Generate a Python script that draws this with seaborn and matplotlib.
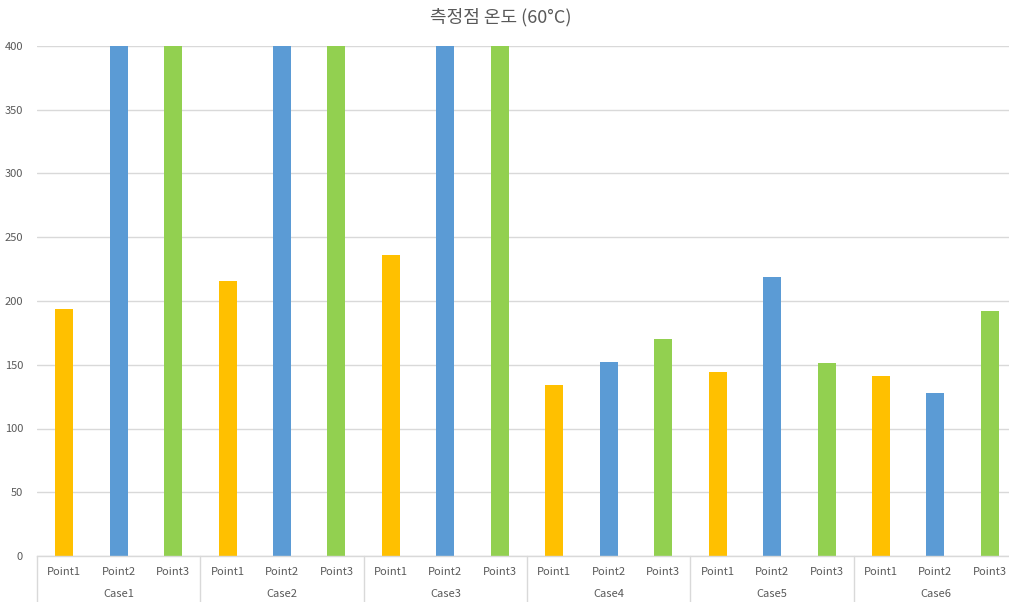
import matplotlib
matplotlib.use("Agg")
import matplotlib.pyplot as plt
import matplotlib.transforms as mtransforms
import seaborn as sns
import pandas as pd

cases = ["Case1", "Case2", "Case3", "Case4", "Case5", "Case6"]
points = ["Point1", "Point2", "Point3"]
point1 = [194, 216, 236, 134, 144, 141]
point2 = [400, 400, 400, 152, 219, 128]
point3 = [400, 400, 400, 170, 151, 192]
colors = {"Point1": "#FFC000", "Point2": "#5B9BD5", "Point3": "#92D050"}
yticks = [0, 50, 100, 150, 200, 250, 300, 350, 400]
title = "측정점 온도 (60°C)"

rows = []
for i, c in enumerate(cases):
    for p, vals in zip(points, [point1, point2, point3]):
        rows.append({"slot": f"{c}-{p}", "case": c, "point": p, "value": vals[i]})
df = pd.DataFrame(rows)
order = list(df["slot"])

sns.set_theme(style="white")
plt.rcParams["font.family"] = ["Noto Sans CJK KR", "DejaVu Sans"]

W, H = 1009, 602
fig = plt.figure(figsize=(W / 100, H / 100), dpi=100)
left, right = 37, 1009
ax = fig.add_axes([left / W, 46 / H, (right - left) / W, 510 / H])

sns.barplot(data=df, x="slot", y="value", hue="point", order=order,
            hue_order=points, palette=colors, dodge=False, width=0.33,
            legend=False, ax=ax, saturation=1, linewidth=0)

slot_w = 54.45
ax.set_xlim(-0.5, -0.5 + (right - left) / slot_w)
ax.set_ylim(0, 400)
ax.set_yticks(yticks)
ax.set_yticklabels([str(t) for t in yticks], fontsize=8, color="#595959")
ax.tick_params(axis="y", length=0, pad=10)
ax.set_xticks([])
ax.set_xlabel("")
ax.set_ylabel("")
ax.grid(axis="y", color="#D9D9D9", linewidth=1)
ax.set_axisbelow(True)
for s in ["left", "right", "top"]:
    ax.spines[s].set_visible(False)
ax.spines["bottom"].set_color("#D9D9D9")
ax.spines["bottom"].set_linewidth(1)

trans = mtransforms.blended_transform_factory(ax.transData, ax.transAxes)
for k, slot in enumerate(order):
    ax.text(k, -0.031, df["point"][k], transform=trans, ha="center", va="center",
            fontsize=8, color="#595959")
for i, c in enumerate(cases):
    ax.text(3 * i + 1, -0.074, c, transform=trans, ha="center", va="center",
            fontsize=8, color="#595959")
for i in range(len(cases) + 1):
    ax.plot([3 * i - 0.5, 3 * i - 0.5], [0, -0.1], transform=trans,
            color="#D9D9D9", linewidth=1, clip_on=False)

fig.text(501 / W, 1 - 17 / H, title, ha="center", va="center",
         fontsize=13, color="#595959")

fig.savefig("out.png", dpi=100)
